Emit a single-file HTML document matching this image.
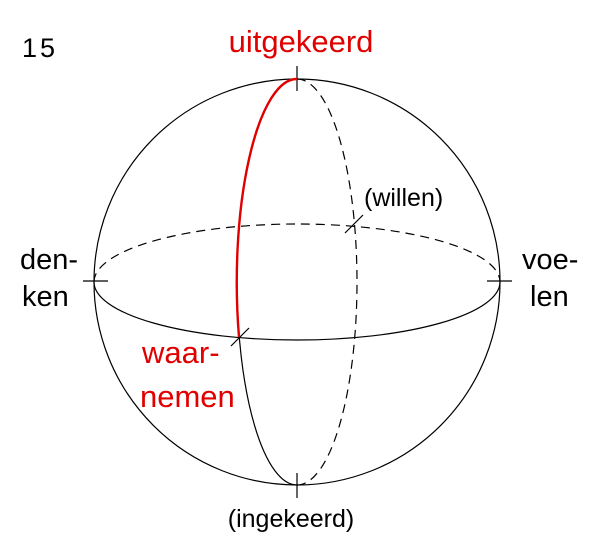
<!DOCTYPE html>
<html><head><meta charset="utf-8"><style>
body{margin:0;background:#fff;}
svg text{font-family:"Liberation Sans",sans-serif;}
</style></head><body>
<svg width="600" height="550" viewBox="0 0 600 550" xmlns="http://www.w3.org/2000/svg">
<g fill="none" stroke="#000" stroke-width="1.2">
<circle cx="297" cy="282" r="203"/>
<!-- horizontal ellipse -->
<path d="M94 282 A203 58 0 0 1 500 282" stroke-dasharray="9,6"/>
<path d="M94 282 A203 58 0 0 0 500 282"/>
<!-- vertical ellipse -->
<path d="M297 79 A60 203 0 0 1 297 485" stroke-dasharray="9,6"/>
<path d="M297 79 A60 203 0 0 0 297 485"/>
<!-- ticks -->
<line x1="297" y1="66" x2="297" y2="91"/>
<line x1="297" y1="473" x2="297" y2="498"/>
<line x1="83" y1="281" x2="108" y2="281"/>
<line x1="487" y1="281" x2="512" y2="281"/>
<line x1="345" y1="233" x2="363" y2="215"/>
<line x1="231" y1="346" x2="249" y2="328"/>
</g>
<path d="M297 79 A60 203 0 0 0 239 337" fill="none" stroke="#e00000" stroke-width="2.4"/>
<text x="22" y="57" font-size="27" letter-spacing="3">15</text>
<text x="301" y="52" font-size="31" fill="#e00000" text-anchor="middle">uitgekeerd</text>
<text x="20" y="269" font-size="29">den-</text>
<text x="22" y="306" font-size="29">ken</text>
<text x="522" y="269" font-size="29">voe-</text>
<text x="530" y="306" font-size="29">len</text>
<text x="364" y="206" font-size="25">(willen)</text>
<text x="142" y="363" font-size="31" fill="#e00000">waar-</text>
<text x="140" y="407" font-size="31" fill="#e00000">nemen</text>
<text x="291" y="527" font-size="25" text-anchor="middle">(ingekeerd)</text>
</svg>
</body></html>
